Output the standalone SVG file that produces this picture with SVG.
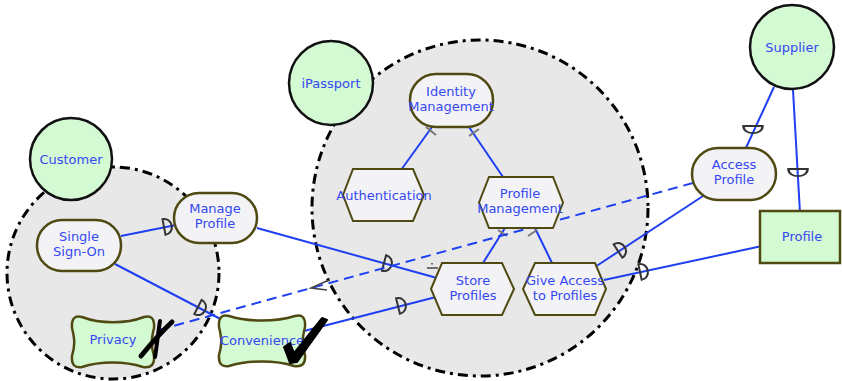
<svg xmlns="http://www.w3.org/2000/svg" width="842" height="381" viewBox="0 0 842 381">
<defs>
<style>
text{font-family:"DejaVu Sans","Liberation Sans",sans-serif;font-size:13px;fill:#3548f2;text-anchor:middle}
.bnd{fill:#e8e8e8;stroke:#000;stroke-width:3;stroke-dasharray:10 5 3 5}
.actor{fill:#d4fad4;stroke:#111;stroke-width:2.5}
.goal{fill:#f3f3f6;stroke:#4f4a12;stroke-width:2.5}
.task{fill:#f3f3f6;stroke:#4f4a12;stroke-width:2}
.soft{fill:#d4fad4;stroke:#4f4a12;stroke-width:2.5}
.res{fill:#d4fad4;stroke:#4f4a12;stroke-width:2.5}
.ln{stroke:#1f3ff2;stroke-width:2;fill:none}
.dash{stroke:#1f3ff2;stroke-width:2;fill:none;stroke-dasharray:10 6}
.tick{stroke:#777;stroke-width:2;fill:none}
.dep{fill:none;stroke:#333;stroke-width:2}
.mark{fill:#000;stroke:#000;stroke-linecap:round;stroke-linejoin:round}
</style>
<path id="D" d="M0,-8 C10.5,-8 10.5,8 0,8 Z"/>
</defs>

<g id="customer-boundary"><circle class="bnd" cx="113" cy="273" r="106"/></g>
<g id="ipassport-boundary"><circle class="bnd" cx="480" cy="208" r="168"/></g>

<g id="customer"><circle class="actor" cx="71" cy="159" r="41"/><text x="71" y="164">Customer</text></g>
<g id="ipassport"><circle class="actor" cx="331" cy="83" r="42"/><text x="331" y="88">iPassport</text></g>
<g id="supplier"><circle class="actor" cx="792" cy="47" r="42"/><text x="792" y="52">Supplier</text></g>

<g id="connectors">
<line class="ln" x1="121" y1="236" x2="176" y2="225"/>
<use href="#D" class="dep" transform="translate(164,227) rotate(-11)"/>
<line class="ln" x1="115" y1="264" x2="232" y2="325"/>
<use href="#D" class="dep" transform="translate(198,307) rotate(27)"/>
<line class="ln" x1="257" y1="228" x2="437" y2="278"/>
<use href="#D" class="dep" transform="translate(384,263) rotate(15)"/>
<line class="ln" x1="436" y1="297" x2="300" y2="332"/>
<use href="#D" class="dep" transform="translate(398,306) rotate(-14)"/>
<line class="ln" x1="595" y1="267" x2="703" y2="196"/>
<use href="#D" class="dep" transform="translate(618,251) rotate(-33)"/>
<line class="ln" x1="604" y1="280" x2="762" y2="246"/>
<use href="#D" class="dep" transform="translate(640,272) rotate(-12)"/>
<line class="ln" x1="774" y1="87" x2="745" y2="150"/>
<use href="#D" class="dep" transform="translate(753,126) rotate(90) scale(0.9,1.2)"/>
<line class="ln" x1="793" y1="90" x2="800" y2="213"/>
<use href="#D" class="dep" transform="translate(798,169) rotate(90) scale(0.9,1.2)"/>
<line class="ln" x1="432" y1="127" x2="401" y2="170"/>
<line class="tick" x1="426" y1="127" x2="436" y2="135"/>
<line class="ln" x1="469" y1="127" x2="503" y2="177"/>
<line class="tick" x1="469" y1="136" x2="479" y2="129"/>
<line class="ln" x1="483" y1="263" x2="505" y2="228"/>
<line class="tick" x1="498" y1="230" x2="507" y2="236"/>
<line class="ln" x1="552" y1="263" x2="535" y2="228"/>
<line class="tick" x1="528" y1="236" x2="537" y2="230"/>
<line class="dash" x1="693" y1="183" x2="155" y2="331"/>
<path d="M329,280 L311,288 L327,290" fill="none" stroke="#444" stroke-width="1.6"/>
<path d="M427,268 L438,268 M432,263 L432,264.5" fill="none" stroke="#444" stroke-width="1.6"/>
</g>

<g id="single-sign-on"><rect class="goal" x="37" y="220" width="84" height="51" rx="25"/><text x="79" y="241">Single</text><text x="79" y="256">Sign-On</text></g>
<g id="manage-profile"><rect class="goal" x="174" y="193" width="83" height="50" rx="25"/><text x="215" y="213">Manage</text><text x="215" y="228">Profile</text></g>
<g id="identity-management"><rect class="goal" x="410" y="74" width="83" height="53" rx="26"/><text x="451" y="95.5">Identity</text><text x="451" y="110.5">Management</text></g>
<g id="access-profile"><rect class="goal" x="692" y="148" width="84" height="52" rx="26"/><text x="734" y="169">Access</text><text x="734" y="184">Profile</text></g>

<g id="authentication"><polygon class="task" points="343,195 353,169 413,169 424,195 413,221 353,221"/><text x="384" y="199.5">Authentication</text></g>
<g id="profile-management"><polygon class="task" points="479,202.5 489,177 553,177 563,202.5 553,228 489,228"/><text x="520" y="197.5">Profile</text><text x="520" y="212.5">Management</text></g>
<g id="store-profiles"><polygon class="task" points="431,289 442,263 502,263 514,289 502,315 442,315"/><text x="473" y="284.5">Store</text><text x="473" y="299.5">Profiles</text></g>
<g id="give-access"><polygon class="task" points="523,289 535,263 595,263 606,289 595,315 535,315"/><text x="565" y="284.5">Give Access</text><text x="565" y="299.5">to Profiles</text></g>

<g id="privacy"><path class="soft" d="M82,317 C100,324 126,324 144,317 Q155,314 154,328 C151,340 151,346 154,356 Q155,369 143,367 C125,361 100,361 82,367 Q71,369 72,356 C75,346 75,340 72,328 Q71,314 82,317 Z"/><text x="113" y="344">Privacy</text></g>
<g id="convenience"><path class="soft" d="M229,316 C248,322 276,322 295,316 Q306,313 305,327 C302,339 302,345 305,355 Q306,368 294,366 C276,360 248,360 229,366 Q218,368 219,355 C222,345 222,339 219,327 Q218,313 229,316 Z"/><text x="262" y="345">Convenience</text></g>
<g id="profile"><rect class="res" x="760" y="211" width="80" height="52"/><text x="802" y="241">Profile</text></g>

<g id="marks">
<path class="mark" d="M141,356 C150,345 160,333 172,322" fill="none" stroke-width="5"/>
<path class="mark" d="M160,321 C158,333 157,345 155,357" fill="none" stroke-width="4"/>
<path class="mark" d="M284,347 L290,343 L294,353 L322,318 L327,320 L297,362 L290,363 Z" stroke-width="2"/>
</g>
</svg>
